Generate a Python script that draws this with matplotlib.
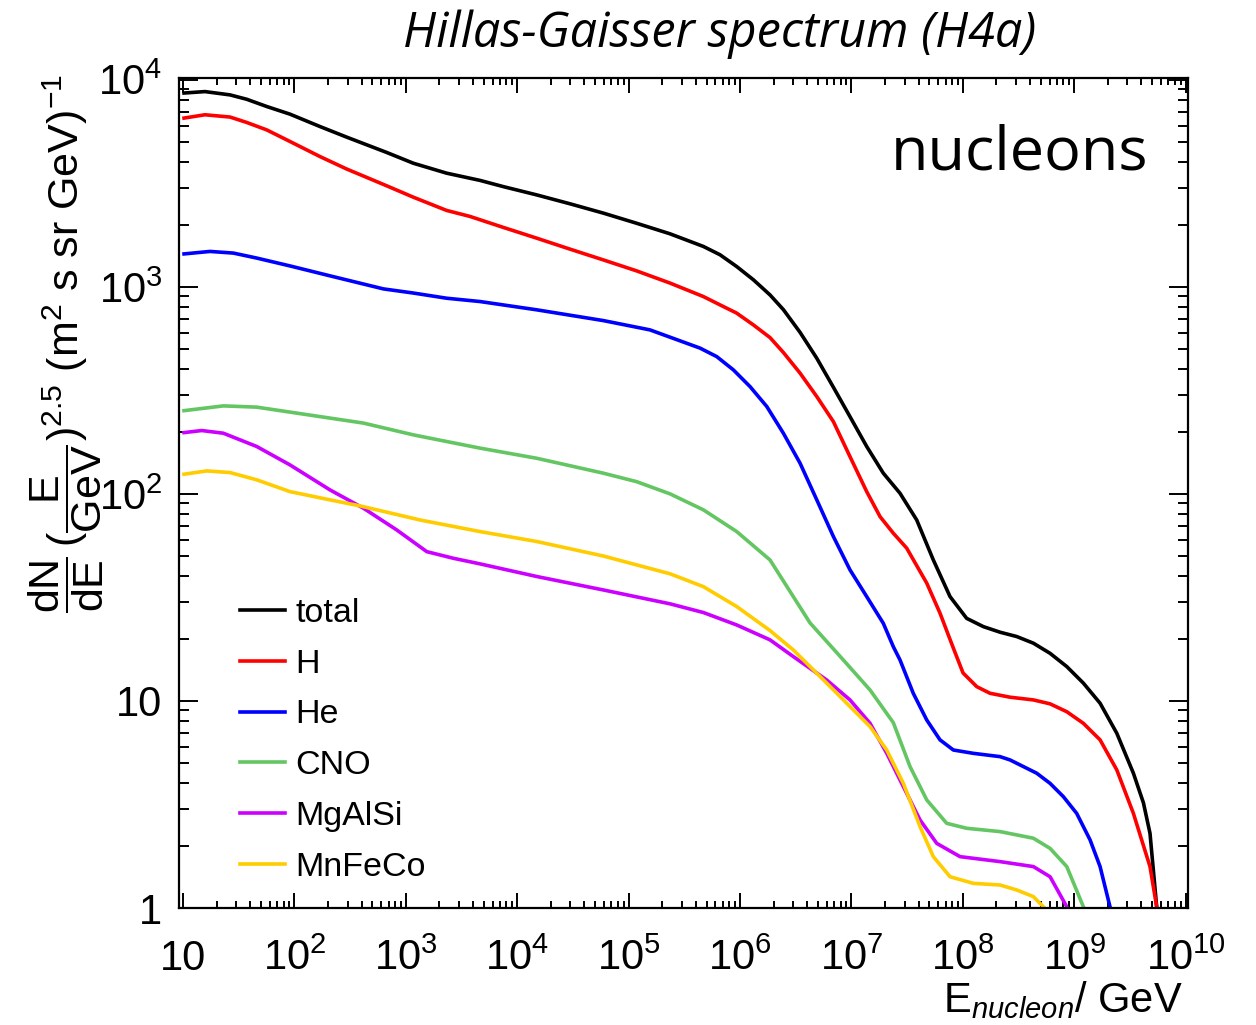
import numpy as np
import matplotlib.pyplot as plt
from matplotlib.ticker import LogLocator, FixedLocator, NullFormatter

plt.rcParams['mathtext.fontset'] = 'custom'
plt.rcParams['mathtext.rm'] = 'Liberation Sans'
plt.rcParams['mathtext.it'] = 'Liberation Sans:italic'
plt.rcParams['font.family'] = 'Liberation Sans'

# values: log10(E/GeV) and log10(flux)
total_lgE = [1.009, 1.197, 1.422, 1.571, 1.751, 1.960, 2.230, 2.469, 2.828, 3.067, 3.366, 3.666,
             3.875, 4.175, 4.474, 4.773, 5.072, 5.372, 5.671, 5.820, 5.970, 6.120, 6.269, 6.389,
             6.539, 6.689, 6.838, 6.987, 7.137, 7.286, 7.436, 7.586, 7.735, 7.885, 8.034, 8.184,
             8.334, 8.484, 8.633, 8.783, 8.933, 9.082, 9.232, 9.382, 9.531, 9.621, 9.680, 9.740]
total_lgF = [3.936, 3.943, 3.927, 3.906, 3.871, 3.834, 3.774, 3.723, 3.649, 3.597, 3.549, 3.514,
             3.484, 3.444, 3.401, 3.356, 3.307, 3.256, 3.195, 3.155, 3.098, 3.034, 2.961, 2.890,
             2.780, 2.655, 2.515, 2.373, 2.229, 2.100, 2.003, 1.874, 1.681, 1.504, 1.399, 1.359,
             1.332, 1.311, 1.279, 1.230, 1.166, 1.086, 0.989, 0.844, 0.651, 0.508, 0.361, 0.006]

h_lgE = [1.009, 1.197, 1.422, 1.571, 1.751, 1.960, 2.230, 2.469, 2.828, 3.067, 3.366, 3.576,
         3.875, 4.175, 4.474, 4.773, 5.072, 5.372, 5.671, 5.820, 5.970, 6.120, 6.269, 6.389,
         6.539, 6.689, 6.838, 6.987, 7.137, 7.257, 7.376, 7.496, 7.676, 7.795, 7.915, 8.002,
         8.125, 8.244, 8.424, 8.633, 8.783, 8.933, 9.082, 9.232, 9.382, 9.531, 9.680, 9.740]
h_lgF = [3.815, 3.831, 3.820, 3.794, 3.758, 3.702, 3.629, 3.569, 3.488, 3.433, 3.369, 3.340,
         3.287, 3.235, 3.182, 3.130, 3.077, 3.018, 2.953, 2.913, 2.873, 2.816, 2.755, 2.683,
         2.583, 2.470, 2.349, 2.180, 2.011, 1.890, 1.810, 1.738, 1.569, 1.424, 1.255, 1.135,
         1.069, 1.037, 1.018, 1.005, 0.986, 0.948, 0.892, 0.812, 0.667, 0.457, 0.200, 0.006]

he_lgE = [1.009, 1.242, 1.452, 1.661, 1.960, 2.320, 2.799, 3.068, 3.366, 3.666, 4.175, 4.773,
          5.192, 5.641, 5.791, 5.940, 6.090, 6.240, 6.389, 6.539, 6.689, 6.838, 6.987, 7.137,
          7.286, 7.376, 7.436, 7.555, 7.676, 7.795, 7.915, 8.094, 8.334, 8.424, 8.663, 8.783,
          8.902, 9.022, 9.142, 9.232, 9.321]
he_lgF = [3.159, 3.171, 3.163, 3.139, 3.101, 3.053, 2.990, 2.970, 2.945, 2.929, 2.889, 2.837,
          2.792, 2.704, 2.663, 2.599, 2.518, 2.422, 2.293, 2.148, 1.971, 1.794, 1.633, 1.504,
          1.375, 1.262, 1.198, 1.037, 0.908, 0.812, 0.763, 0.747, 0.731, 0.715, 0.651, 0.602,
          0.538, 0.457, 0.329, 0.200, 0.006]

cno_lgE = [1.009, 1.362, 1.661, 1.960, 2.320, 2.619, 3.068, 3.366, 3.666, 4.175, 4.773, 5.072,
           5.372, 5.671, 5.970, 6.269, 6.628, 6.927, 7.167, 7.376, 7.526, 7.676, 7.855, 8.034,
           8.334, 8.633, 8.783, 8.933, 9.082]
cno_lgF = [2.402, 2.425, 2.419, 2.395, 2.366, 2.342, 2.285, 2.253, 2.221, 2.172, 2.100, 2.059,
           2.000, 1.923, 1.818, 1.681, 1.377, 1.198, 1.053, 0.895, 0.683, 0.522, 0.409, 0.385,
           0.369, 0.337, 0.288, 0.200, 0.006]

mg_lgE = [1.009, 1.168, 1.362, 1.661, 1.960, 2.320, 2.619, 2.918, 3.188, 3.427, 3.666, 4.175,
          4.773, 5.372, 5.671, 5.970, 6.269, 6.479, 6.778, 6.987, 7.167, 7.317, 7.466, 7.616,
          7.766, 7.975, 8.334, 8.633, 8.783, 8.933]
mg_lgF = [2.296, 2.306, 2.293, 2.229, 2.140, 2.019, 1.931, 1.826, 1.721, 1.689, 1.662, 1.601,
          1.536, 1.469, 1.427, 1.367, 1.295, 1.214, 1.101, 1.005, 0.892, 0.747, 0.586, 0.425,
          0.312, 0.248, 0.224, 0.200, 0.151, 0.006]

fe_lgE = [1.009, 1.213, 1.422, 1.661, 1.960, 2.320, 2.589, 3.127, 3.666, 4.175, 4.773, 5.372,
          5.671, 5.970, 6.269, 6.479, 6.778, 7.017, 7.167, 7.317, 7.466, 7.616, 7.735, 7.885,
          8.094, 8.334, 8.484, 8.633, 8.723]
fe_lgF = [2.095, 2.111, 2.103, 2.068, 2.011, 1.971, 1.942, 1.874, 1.818, 1.770, 1.700, 1.614,
          1.552, 1.456, 1.340, 1.246, 1.086, 0.957, 0.876, 0.763, 0.602, 0.393, 0.248, 0.151,
          0.119, 0.111, 0.087, 0.055, 0.006]

series = [
    ("total", total_lgE, total_lgF, "black"),
    ("H", h_lgE, h_lgF, "#ff0000"),
    ("He", he_lgE, he_lgF, "#0000ff"),
    ("CNO", cno_lgE, cno_lgF, "#63c663"),
    ("MgAlSi", mg_lgE, mg_lgF, "#cc00ff"),
    ("MnFeCo", fe_lgE, fe_lgF, "#ffcc00"),
]

fig = plt.figure(figsize=(12.56, 10.25), dpi=100)
ax = fig.add_axes([179/1256, 1-908/1025, (1188-179)/1256, (908-78)/1025])

for name, lx, ly, c in series:
    ax.plot(10**np.array(lx), 10**np.array(ly), color=c, lw=2.6, label=name,
            solid_joinstyle='round')

ax.set_xscale('log')
ax.set_yscale('log')
ax.set_xlim(9.2, 1.05e10)
ax.set_ylim(1, 1.02e4)

ax.xaxis.set_major_locator(FixedLocator([10.0**k for k in range(1, 11)]))
ax.xaxis.set_minor_locator(LogLocator(base=10, subs=np.arange(2, 10), numticks=30))
ax.yaxis.set_major_locator(FixedLocator([10.0**k for k in range(0, 5)]))
ax.yaxis.set_minor_locator(LogLocator(base=10, subs=np.arange(2, 10), numticks=30))
ax.xaxis.set_minor_formatter(NullFormatter())
ax.yaxis.set_minor_formatter(NullFormatter())

xlabels = ["10"] + [r"$10^{%d}$" % k for k in range(2, 11)]
ylabels = ["1", "10", r"$10^{2}$", r"$10^{3}$", r"$10^{4}$"]
ax.set_xticklabels(xlabels)
ax.set_yticklabels(ylabels)

ax.tick_params(which='both', direction='in', top=True, right=True, width=1.4, labelsize=30)
ax.tick_params(axis='x', which='major', length=11, pad=45)
ax.tick_params(axis='x', which='minor', length=5)
ax.tick_params(axis='y', which='major', length=14, pad=12)
ax.tick_params(axis='y', which='minor', length=7)
for t in ax.xaxis.get_major_ticks():
    t.label1.set_verticalalignment('baseline')
for s in ax.spines.values():
    s.set_linewidth(1.6)

ax.legend(loc='upper left', bbox_to_anchor=(240/1256, 1-598/1025), bbox_transform=fig.transFigure,
          frameon=False, fontsize=24.5, handlelength=1.32, handletextpad=0.3,
          labelspacing=0.58, borderpad=0, borderaxespad=0)

fig.text(720/1256, 1-47/1025, "Hillas-Gaisser spectrum (H4a)", family="Open Sans",
         style="italic", fontsize=35, ha="center", va="baseline")
fig.text(1148/1256, 1-170/1025, "nucleons", family="Open Sans", fontsize=44,
         ha="right", va="baseline")

fig.text(1183/1256, 1-1012/1025, r"$\mathrm{E}_{\mathit{nucleon}}\mathrm{/\ GeV}$",
         fontsize=30, ha="right", va="baseline")
fig.text(66/1256, 1-74/1025,
         r"$\dfrac{\mathrm{dN}}{\mathrm{dE}}\,(\dfrac{\mathrm{E}}{\mathrm{GeV}})^{2.5}\ \mathrm{(m^{2}\ s\ sr\ GeV)^{-1}}$",
         fontsize=31, rotation=90, ha="center", va="top")

fig.savefig("out.png", dpi=100)
